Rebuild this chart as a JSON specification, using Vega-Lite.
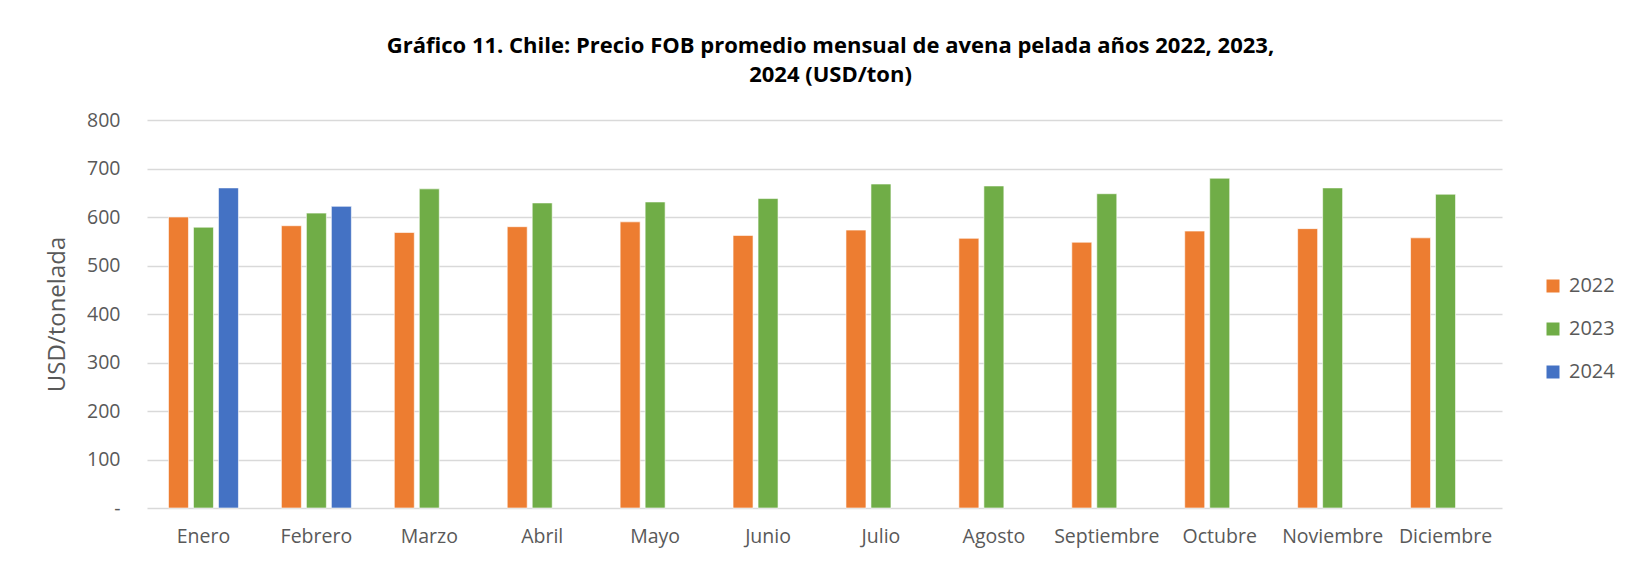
{
  "$schema": "https://vega.github.io/schema/vega-lite/v6.json",
  "width": 1355,
  "height": 388,
  "autosize": "none",
  "padding": {"left": 147, "top": 120, "right": 135, "bottom": 58},
  "background": "white",
  "title": {
    "text": ["Gráfico 11. Chile: Precio FOB promedio mensual de avena pelada años 2022, 2023,", "2024 (USD/ton)"],
    "font": "Open Sans",
    "fontSize": 22,
    "fontWeight": "bold",
    "color": "#000000",
    "lineHeight": 29,
    "anchor": "middle",
    "offset": 23,
    "dx": 6
  },
  "data": {
    "values": [
      {"mes": "Enero", "anio": "2022", "precio": 600},
      {"mes": "Enero", "anio": "2023", "precio": 579},
      {"mes": "Enero", "anio": "2024", "precio": 660},
      {"mes": "Febrero", "anio": "2022", "precio": 582},
      {"mes": "Febrero", "anio": "2023", "precio": 608},
      {"mes": "Febrero", "anio": "2024", "precio": 622},
      {"mes": "Marzo", "anio": "2022", "precio": 568},
      {"mes": "Marzo", "anio": "2023", "precio": 658},
      {"mes": "Abril", "anio": "2022", "precio": 580},
      {"mes": "Abril", "anio": "2023", "precio": 629},
      {"mes": "Mayo", "anio": "2022", "precio": 590},
      {"mes": "Mayo", "anio": "2023", "precio": 631},
      {"mes": "Junio", "anio": "2022", "precio": 562},
      {"mes": "Junio", "anio": "2023", "precio": 638},
      {"mes": "Julio", "anio": "2022", "precio": 573},
      {"mes": "Julio", "anio": "2023", "precio": 668},
      {"mes": "Agosto", "anio": "2022", "precio": 556},
      {"mes": "Agosto", "anio": "2023", "precio": 664},
      {"mes": "Septiembre", "anio": "2022", "precio": 548},
      {"mes": "Septiembre", "anio": "2023", "precio": 648},
      {"mes": "Octubre", "anio": "2022", "precio": 571},
      {"mes": "Octubre", "anio": "2023", "precio": 680},
      {"mes": "Noviembre", "anio": "2022", "precio": 576},
      {"mes": "Noviembre", "anio": "2023", "precio": 660},
      {"mes": "Diciembre", "anio": "2022", "precio": 557},
      {"mes": "Diciembre", "anio": "2023", "precio": 647}
    ]
  },
  "mark": {"type": "bar", "stroke": "white", "strokeWidth": 0.6},
  "encoding": {
    "x": {
      "field": "mes",
      "type": "nominal",
      "sort": ["Enero", "Febrero", "Marzo", "Abril", "Mayo", "Junio", "Julio", "Agosto", "Septiembre", "Octubre", "Noviembre", "Diciembre"],
      "scale": {"paddingInner": 0.336, "paddingOuter": 0.168},
      "axis": {
        "title": null,
        "labelAngle": 0,
        "labelFont": "Open Sans",
        "labelFontSize": 19.5,
        "labelColor": "#595959",
        "labelPadding": 19,
        "ticks": false,
        "domain": false,
        "grid": false
      }
    },
    "xOffset": {
      "field": "anio",
      "type": "nominal",
      "scale": {"domain": ["2022", "2023", "2024"], "paddingInner": 0.2, "paddingOuter": 0.1}
    },
    "y": {
      "field": "precio",
      "type": "quantitative",
      "scale": {"domain": [0, 800], "nice": false},
      "axis": {
        "title": "USD/tonelada",
        "titleFont": "Open Sans",
        "titleFontSize": 24,
        "titleFontWeight": "normal",
        "titleColor": "#595959",
        "titlePadding": 17,
        "values": [0, 100, 200, 300, 400, 500, 600, 700, 800],
        "labelExpr": "datum.value == 0 ? '-' : datum.label",
        "labelFont": "Open Sans",
        "labelFontSize": 19.5,
        "labelColor": "#595959",
        "labelPadding": 27,
        "ticks": false,
        "domain": false,
        "grid": true,
        "gridColor": "#d9d9d9",
        "gridWidth": 1.5
      }
    },
    "color": {
      "field": "anio",
      "type": "nominal",
      "scale": {"domain": ["2022", "2023", "2024"], "range": ["#ED7D31", "#70AD47", "#4472C4"]},
      "legend": {
        "title": null,
        "orient": "none",
        "legendX": 1396,
        "legendY": 156,
        "symbolType": "square",
        "symbolSize": 169,
        "symbolStrokeWidth": 0,
        "labelFont": "Open Sans",
        "labelFontSize": 20,
        "labelColor": "#595959",
        "labelOffset": 6,
        "rowPadding": 23
      }
    }
  },
  "config": {
    "view": {"stroke": null}
  }
}
